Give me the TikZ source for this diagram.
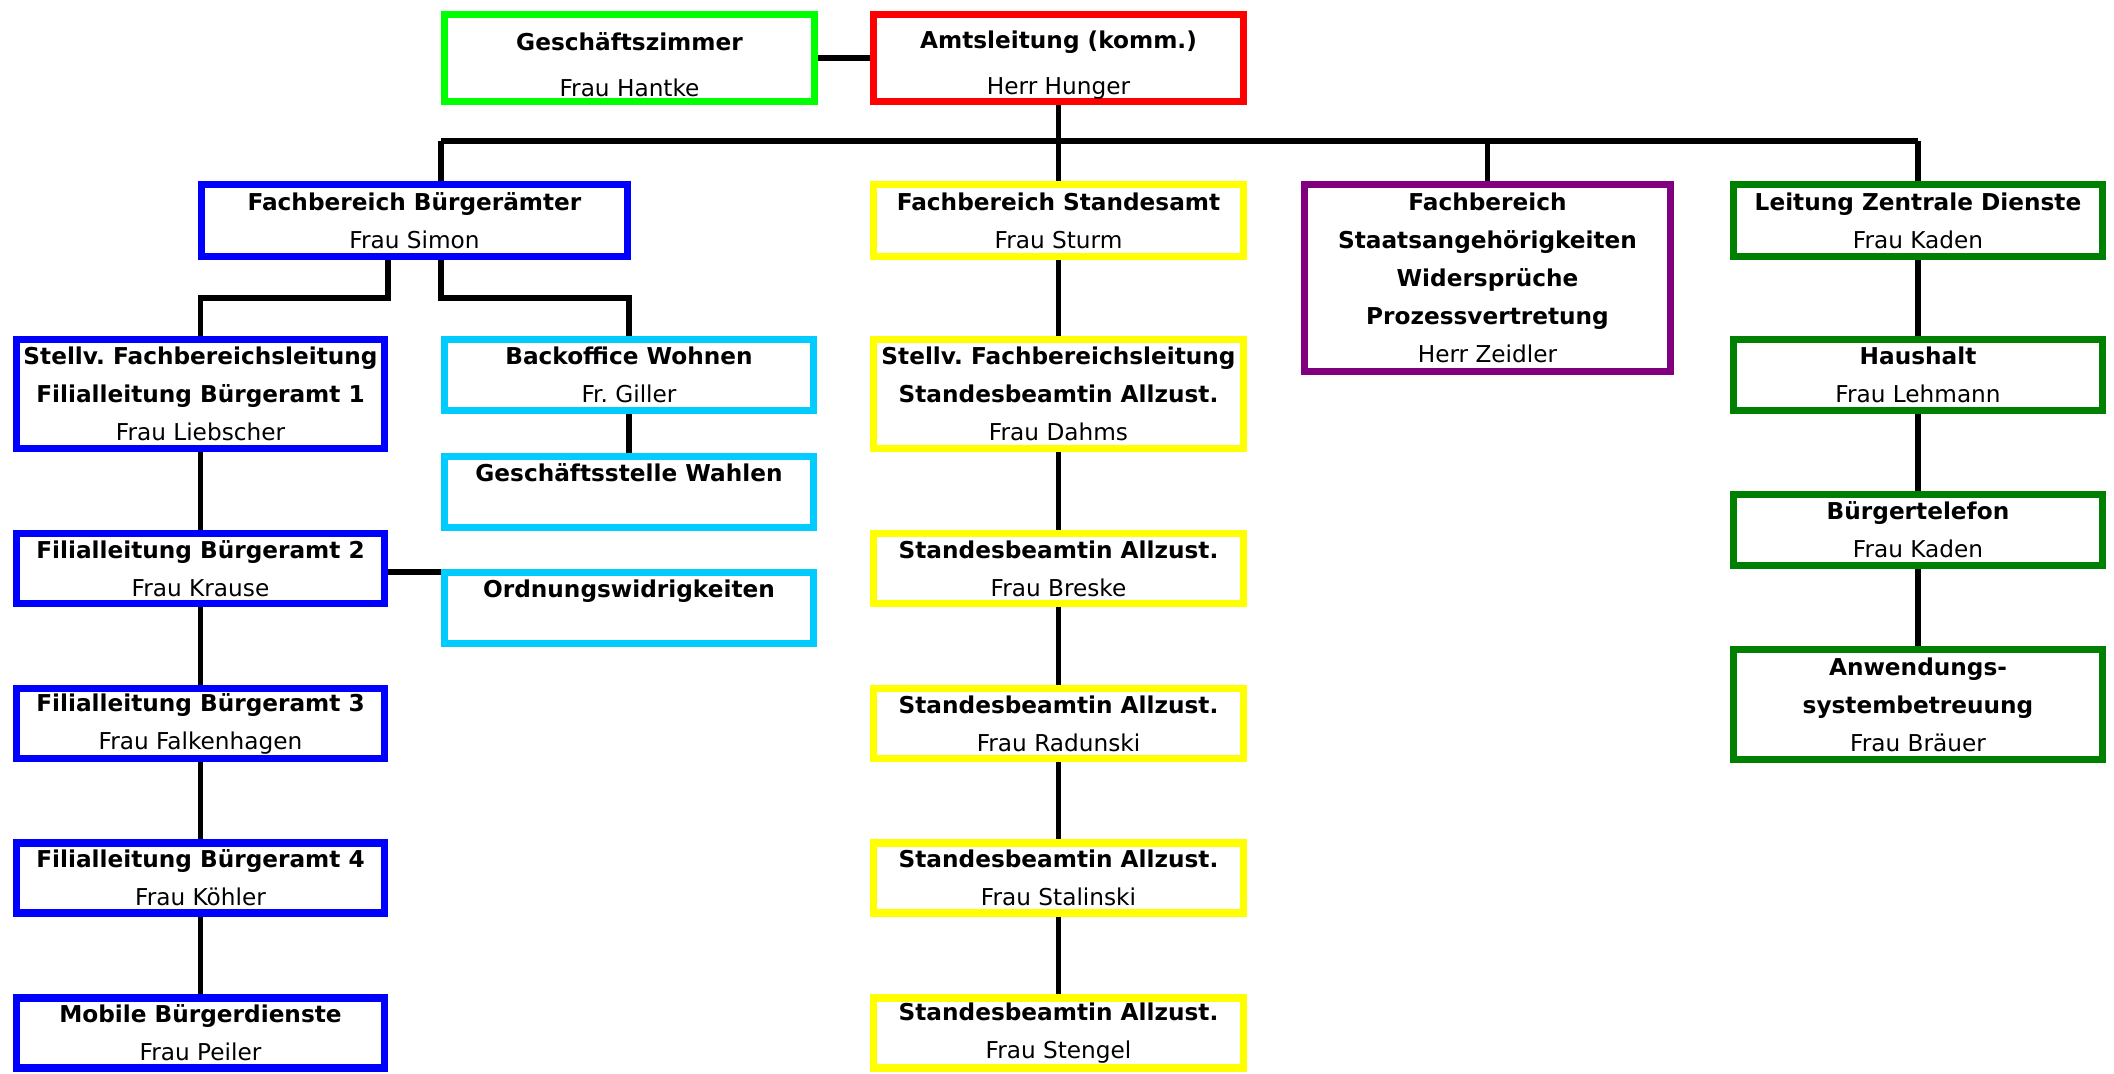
\documentclass[tikz,border=0pt]{standalone}
\usepackage{fontspec}
\setmainfont{DejaVu Sans}
\usepackage{xcolor}
\usepackage{tikz}
\frenchspacing

\definecolor{hellgruen}{RGB}{0,255,0}
\definecolor{rot}{RGB}{255,0,0}
\definecolor{blau}{RGB}{0,0,255}
\definecolor{tuerkis}{RGB}{0,204,255}
\definecolor{gelb}{RGB}{255,255,0}
\definecolor{lila}{RGB}{128,0,128}
\definecolor{dunkelgruen}{RGB}{0,128,0}

\begin{document}
\begin{tikzpicture}[x=0.01cm,y=-0.01cm,
	org/.style={draw=#1,line width=2pt,fill=white,inner sep=0pt,align=center,
		font=\fontsize{6.6}{10.8}\selectfont},
	wh/.style 2 args={minimum width=#1*0.01cm,minimum height=#2*0.01cm},
	link/.style={line width=1.6pt}]
		\useasboundingbox (0,0) rectangle (2114,1074);
		% Leitung
		\node[org=hellgruen,wh={370}{87}] (gz) at (629.5,58) {\rule{0pt}{9pt}\textbf{Geschäftszimmer}\\[0.8mm] Frau Hantke};
		\node[org=rot,wh={370}{87}] (al) at (1058.5,58) {\rule{0pt}{9pt}\textbf{Amtsleitung (komm.)}\\[0.8mm] Herr Hunger};
		%
		\node[org=blau,wh={426}{72}] (fbb) at (414.5,220.5) {\textbf{Fachbereich Bürgerämter}\\ Frau Simon};
		\node[org=gelb,wh={370}{72}] (fbs) at (1058.5,220.5) {\textbf{Fachbereich Standesamt}\\ Frau Sturm};
		\node[org=lila,wh={366}{187}] (fbsa) at (1487.5,278) {\textbf{Fachbereich}\\ \textbf{Staatsangehörigkeiten}\\ \textbf{Widersprüche}\\ \textbf{Prozessvertretung}\\ Herr Zeidler};
		\node[org=dunkelgruen,wh={369}{72}] (lzd) at (1918,220.5) {\textbf{Leitung Zentrale Dienste}\\ Frau Kaden};
		% Buergeraemter
		\node[org=blau,wh={368}{109}] (stv1) at (200.5,394) {\textbf{Stellv. Fachbereichsleitung}\\ \textbf{Filialleitung Bürgeramt 1}\\ Frau Liebscher};
		\node[org=blau,wh={368}{70}] (fil2) at (200.5,568.5) {\textbf{Filialleitung Bürgeramt 2}\\ Frau Krause};
		\node[org=blau,wh={368}{70}] (fil3) at (200.5,723.5) {\textbf{Filialleitung Bürgeramt 3}\\ Frau Falkenhagen};
		\node[org=blau,wh={368}{70}] (fil4) at (200.5,878) {\textbf{Filialleitung Bürgeramt 4}\\ Frau Köhler};
		\node[org=blau,wh={368}{70}] (mbd) at (200.5,1033) {\textbf{Mobile Bürgerdienste}\\ Frau Peiler};
		\node[org=tuerkis,wh={369}{71}] (bow) at (629,375) {\textbf{Backoffice Wohnen}\\ Fr. Giller};
		\node[org=tuerkis,wh={369}{71}] (gsw) at (629,492) {\textbf{Geschäftsstelle Wahlen}\\ ~};
		\node[org=tuerkis,wh={369}{71}] (owi) at (629,608) {\textbf{Ordnungswidrigkeiten}\\ ~};
		% Standesamt
		\node[org=gelb,wh={370}{109}] (stv2) at (1058.5,394) {\textbf{Stellv. Fachbereichsleitung}\\ \textbf{Standesbeamtin Allzust.}\\ Frau Dahms};
		\node[org=gelb,wh={370}{70}] (sb1) at (1058.5,568.5) {\textbf{Standesbeamtin Allzust.}\\ Frau Breske};
		\node[org=gelb,wh={370}{70}] (sb2) at (1058.5,723.5) {\textbf{Standesbeamtin Allzust.}\\ Frau Radunski};
		\node[org=gelb,wh={370}{70}] (sb3) at (1058.5,878) {\textbf{Standesbeamtin Allzust.}\\ Frau Stalinski};
		\node[org=gelb,wh={370}{70}] (sb4) at (1058.5,1033) {\textbf{Standesbeamtin Allzust.}\\ Frau Stengel};
		% Zentrale Dienste
		\node[org=dunkelgruen,wh={369}{71}] (hh) at (1918,375) {\textbf{Haushalt}\\ Frau Lehmann};
		\node[org=dunkelgruen,wh={369}{71}] (bt) at (1918,530) {\textbf{Bürgertelefon}\\ Frau Kaden};
		\node[org=dunkelgruen,wh={369}{110}] (asb) at (1918,704.5) {\textbf{Anwendungs-}\\ \textbf{systembetreuung}\\ Frau Bräuer};
		%
		\coordinate (busl) at (441,141);
		\coordinate (busr) at (1918,141);
		\coordinate (fork) at (414.5,298);
		%
		\draw[link] (gz) -- (al);
		\draw[link] (busl) -- (busr);
		\draw[link] (al) -- (fbs);
		\draw[link] (busl) -- (busl |- fbb.north);
		\draw[link] (fbsa.north |- busl) -- (fbsa.north);
		\draw[link] (busr) -- (lzd.north);
		%
		\draw[link] (stv1.east |- fbb.south) -- (stv1.east |- fork) -| (stv1.north);
		\draw[link] (bow.west |- fbb.south) -- (bow.west |- fork) -| (bow.north);
		\draw[link] (bow) -- (gsw);
		\draw[link] (stv1) -- (fil2) -- (fil3) -- (fil4) -- (mbd);
		\draw[link] (fil2.east |- 0,572) -- (owi.west |- 0,572);
		%
		\draw[link] (fbs) -- (stv2) -- (sb1) -- (sb2) -- (sb3) -- (sb4);
		\draw[link] (lzd) -- (hh) -- (bt) -- (asb);
		\end{tikzpicture}
\end{document}
